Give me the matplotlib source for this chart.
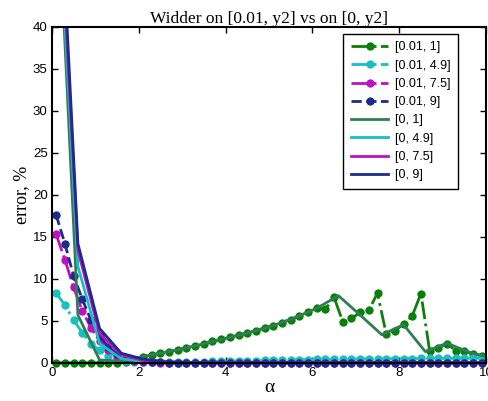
import matplotlib
matplotlib.use("Agg")
import matplotlib.pyplot as plt

# alpha grid for the [0.01, y2] runs (dotted)
alpha_fine = [0.1, 0.3, 0.5, 0.7, 0.9, 1.1, 1.3, 1.5, 1.7, 1.9,
              2.1, 2.3, 2.5, 2.7, 2.9, 3.1, 3.3, 3.5, 3.7, 3.9,
              4.1, 4.3, 4.5, 4.7, 4.9, 5.1, 5.3, 5.5, 5.7, 5.9,
              6.1, 6.3, 6.5, 6.7, 6.9, 7.1, 7.3, 7.5, 7.7, 7.9,
              8.1, 8.3, 8.5, 8.7, 8.9, 9.1, 9.3, 9.5, 9.7, 9.9]

# alpha grid for the [0, y2] runs (solid)
alpha_coarse = [0.1, 0.6, 1.1, 1.6, 2.1, 2.6, 3.1, 3.6, 4.1, 4.6, 5.1,
                5.6, 6.1, 6.6, 7.1, 7.6, 8.1, 8.6, 9.1, 9.6, 10.1]

err_001_1 = [0, 0, 0, 0, 0, 0, 0, 0, 0.15, 0.4,
             0.75, 0.95, 1.15, 1.35, 1.55, 1.8, 2.05, 2.3, 2.55, 2.8,
             3.05, 3.3, 3.55, 3.85, 4.15, 4.45, 4.8, 5.15, 5.6, 6.0,
             6.5, 6.4, 7.8, 4.9, 5.3, 6.0, 6.3, 8.3, 3.45, 3.85,
             4.6, 5.6, 8.25, 1.45, 1.8, 2.3, 1.45, 1.4, 1.05, 0.85]
err_001_49 = [8.3, 6.9, 5.1, 3.6, 2.3, 1.5, 0.85, 0.45, 0.2, 0.1,
              0.06, 0.07, 0.08, 0.1, 0.11, 0.13, 0.14, 0.16, 0.18, 0.2,
              0.22, 0.24, 0.26, 0.28, 0.3, 0.32, 0.34, 0.36, 0.38, 0.4,
              0.41, 0.42, 0.43, 0.44, 0.45, 0.46, 0.47, 0.48, 0.49, 0.5,
              0.51, 0.52, 0.53, 0.54, 0.55, 0.56, 0.57, 0.58, 0.59, 0.6]
err_001_75 = [15.3, 12.3, 9.0, 6.2, 4.2, 2.6, 1.5, 0.8, 0.45, 0.25,
              0.12, 0.07, 0.04, 0.0, 0.0, 0.0, 0.0, 0.0, 0.0, 0.0,
              0.0, 0.0, 0.0, 0.0, 0.0, 0.0, 0.0, 0.0, 0.0, 0.0,
              0.0, 0.0, 0.0, 0.0, 0.0, 0.0, 0.0, 0.0, 0.0, 0.0,
              0.0, 0.0, 0.0, 0.0, 0.0, 0.0, 0.0, 0.0, 0.0, 0.0]
err_001_9 = [17.6, 14.2, 10.4, 7.6, 5.1, 3.2, 1.9, 1.1, 0.6, 0.35,
             0.2, 0.1, 0.06, 0.04, 0.04, 0.04, 0.04, 0.04, 0.04, 0.04,
             0.04, 0.04, 0.04, 0.04, 0.04, 0.04, 0.04, 0.04, 0.04, 0.04,
             0.04, 0.04, 0.04, 0.04, 0.04, 0.04, 0.04, 0.04, 0.04, 0.04,
             0.04, 0.04, 0.04, 0.04, 0.04, 0.04, 0.04, 0.04, 0.04, 0.04]

err_0_1 = [60, 5.7, 0.35, 0.2, 0.75, 1.25, 1.8, 2.4, 3.05, 3.7, 4.45,
           5.4, 6.5, 8.0, 5.7, 3.35, 4.55, 1.35, 2.35, 1.3, 0.6]
err_0_49 = [60, 11.5, 2.3, 0.5, 0.15, 0.08, 0.05, 0.05, 0.05, 0.05, 0.05,
            0.05, 0.05, 0.05, 0.05, 0.05, 0.05, 0.05, 0.05, 0.05, 0.05]
err_0_75 = [63, 13.4, 3.5, 0.95, 0.3, 0.1, 0.04, 0.04, 0.04, 0.04, 0.04,
            0.04, 0.04, 0.04, 0.04, 0.04, 0.04, 0.04, 0.04, 0.04, 0.04]
err_0_9 = [66, 14.2, 4.1, 1.15, 0.45, 0.15, 0.03, 0.03, 0.03, 0.03, 0.03,
           0.03, 0.03, 0.03, 0.03, 0.03, 0.03, 0.03, 0.03, 0.03, 0.03]

labels_dotted = ['[0.01, 1]', '[0.01, 4.9]', '[0.01, 7.5]', '[0.01, 9]']
labels_solid = ['[0, 1]', '[0, 4.9]', '[0, 7.5]', '[0, 9]']

c_green = '#0a800a'
c_cyan = '#18c0c0'
c_mag = '#c010c0'
c_navy = '#1c2b8c'
c_sgreen = '#2e7d55'

fig = plt.figure(figsize=(4.89, 4.01), dpi=100)
ax = fig.add_axes([0.106, 0.095, 0.888, 0.838])

dotted = [(err_001_1, c_green, '-.'), (err_001_49, c_cyan, '-.'),
          (err_001_75, c_mag, '-.'), (err_001_9, c_navy, '--')]
for (vals, col, ls), lab in zip(dotted, labels_dotted):
    ax.plot(alpha_fine, vals, linestyle=ls, color=col, marker='o', markersize=6,
            markeredgewidth=0, linewidth=2, label=lab, clip_on=False)

solid = [(err_0_1, c_sgreen), (err_0_49, c_cyan), (err_0_75, c_mag), (err_0_9, c_navy)]
for (vals, col), lab in zip(solid, labels_solid):
    ax.plot(alpha_coarse, vals, '-', color=col, linewidth=2, label=lab)

ax.set_xlim(0, 10)
ax.set_ylim(0, 40)
ax.set_xticks([0, 2, 4, 6, 8, 10])
ax.set_yticks([0, 5, 10, 15, 20, 25, 30, 35, 40])
ax.tick_params(direction='in', top=True, right=True, length=4, width=1,
               labelsize=9.5, pad=3)
for lbl in ax.get_xticklabels() + ax.get_yticklabels():
    lbl.set_family('Liberation Sans')
for sp in ax.spines.values():
    sp.set_linewidth(1.5)

ax.set_title('Widder on [0.01, y2] vs on [0, y2]', family='Liberation Serif',
             fontsize=12.5, pad=3)
ax.set_ylabel('error, %', family='Liberation Serif', fontsize=13, labelpad=2)
ax.set_xlabel('α', family='Liberation Serif', fontsize=14, labelpad=0)

leg = ax.legend(loc='upper right', bbox_to_anchor=(0.935, 0.979), numpoints=1,
                handlelength=3.0, fancybox=False, framealpha=1, edgecolor='black',
                prop={'family': 'Liberation Sans', 'size': 9}, borderaxespad=0,
                labelspacing=0.5, borderpad=0.6, handletextpad=0.5)
leg.get_frame().set_linewidth(1)

fig.savefig('out.png', dpi=100)
